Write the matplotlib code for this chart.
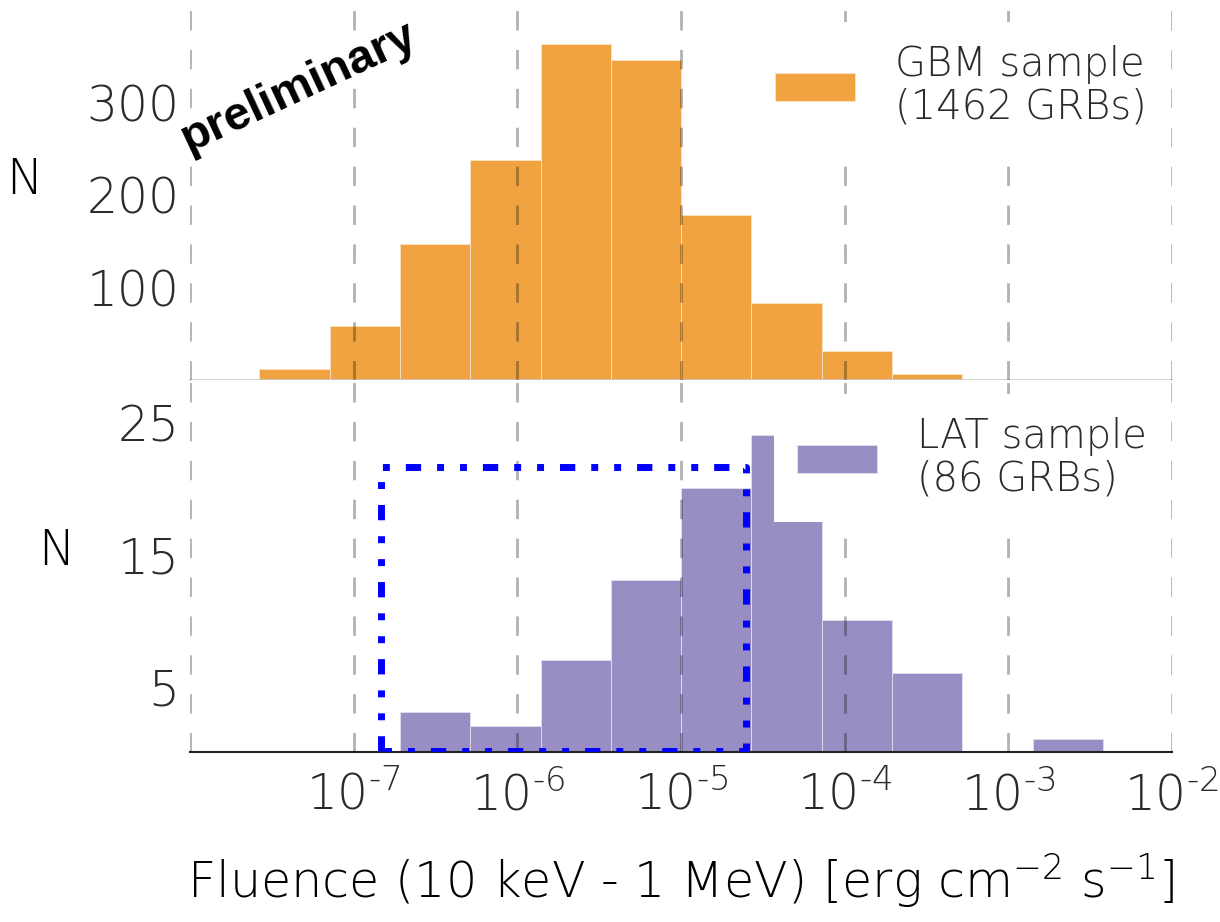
import numpy as np
import matplotlib
matplotlib.use("Agg")
import matplotlib.pyplot as plt

# bin edges (log10 of fluence) shared by both histograms
log_edges = [-7.577, -7.147, -6.718, -6.288, -5.858, -5.428, -4.999,
             -4.569, -4.139, -3.710, -3.280, -2.850, -2.420]
gbm_counts = [12, 58, 147, 238, 363, 346, 178, 83, 31, 6, 0, 0]
lat_counts = [0, 0, 3, 2, 7, 13, 20, 24, 10, 6, 0, 1]

gbm_label = "GBM sample\n(1462 GRBs)"
lat_label = "LAT sample\n(86 GRBs)"

decades = [1e-8, 1e-7, 1e-6, 1e-5, 1e-4, 1e-3, 1e-2]
x_ticklabels = ["", r"$10^{\text{-7}}$", r"$10^{\text{-6}}$", r"$10^{\text{-5}}$",
                r"$10^{\text{-4}}$", r"$10^{\text{-3}}$", r"$10^{\text{-2}}$"]
gbm_yticks = [100, 200, 300]
lat_yticks = [5, 15, 25]

# selection box drawn on the LAT panel
box_x = [1.47e-7, 2.49e-5]
box_y = [0.1, 21.6]

plt.rcParams['font.family'] = ['DejaVu Sans']
plt.rcParams['font.weight'] = 200
plt.rcParams['axes.labelweight'] = 200
plt.rcParams['mathtext.default'] = 'regular'
plt.rcParams['text.color'] = '#2b2b2b'

edges = 10 ** np.array(log_edges)
centers = np.sqrt(edges[:-1] * edges[1:])

fig = plt.figure(figsize=(12.2, 9.22), dpi=100)
ax1 = fig.add_axes([0.1557, 0.5879, 0.8049, 0.4013])
ax2 = fig.add_axes([0.1557, 0.1844, 0.8049, 0.4035])

ax1.hist(centers, bins=edges, weights=gbm_counts, color='#f0a340',
         edgecolor='#fbe3c4', linewidth=0.6, label=gbm_label)
ax2.hist(centers, bins=edges, weights=lat_counts, color='#988ec3',
         edgecolor='#e2def0', linewidth=0.6, label=lat_label)

ax2.plot([box_x[0], box_x[0], box_x[1], box_x[1], box_x[0]],
         [box_y[0], box_y[1], box_y[1], box_y[0], box_y[0]],
         color='blue', lw=5, dashes=(2.2, 2.3, 1, 2.3, 1, 2.3),
         dash_capstyle='butt', zorder=6)

for ax, yt, ymax, leg_top in [(ax1, gbm_yticks, 400, 0.968), (ax2, lat_yticks, 28.2, 0.962)]:
    ax.set_xscale('log')
    ax.set_xlim(1e-8, 1e-2)
    ax.set_ylim(0, ymax)
    ax.set_xticks(decades)
    ax.xaxis.set_minor_locator(matplotlib.ticker.NullLocator())
    ax.set_yticks(yt)
    ax.set_axisbelow(False)
    ax.grid(True, axis='x', color='k', alpha=0.3, lw=2, dashes=(7, 7))
    for s in ['left', 'right', 'top']:
        ax.spines[s].set_visible(False)
    ax.tick_params(length=0, labelsize=35, colors='#2b2b2b')
    ax.tick_params(axis='x', pad=14)
    ax.tick_params(axis='y', pad=7.5)
    ax.set_ylabel("N", fontsize=35, rotation=0, ha='right', va='center')
    leg = ax.legend(loc='upper right', bbox_to_anchor=(0.998, leg_top), fontsize=28.8,
                    frameon=True, fancybox=False, framealpha=1, facecolor='white',
                    edgecolor='none', borderaxespad=0, borderpad=0.58,
                    handletextpad=1.0)
    for t in leg.get_texts():
        t.set_linespacing(1.1)

ax1.spines['bottom'].set_color('#c8c8c8')
ax1.spines['bottom'].set_linewidth(1.2)
ax1.set_xticklabels([""] * len(decades))
ax1.yaxis.set_label_coords(-0.150, 0.54)

ax2.spines['bottom'].set_color('#222222')
ax2.spines['bottom'].set_linewidth(1.5)
ax2.set_xticklabels(x_ticklabels)
ax2.yaxis.set_label_coords(-0.118, 0.54)
ax2.set_xlabel(r"Fluence (10 keV - 1 MeV) [erg cm$^{\mathrm{-2}}$ s$^{\mathrm{-1}}$]",
               fontsize=35.5, labelpad=22)

fig.text(0.245, 0.905, "preliminary", rotation=25, fontsize=34, fontweight='bold',
         family='Liberation Sans', color='black', ha='center', va='center')

fig.savefig("out.png", dpi=100)
